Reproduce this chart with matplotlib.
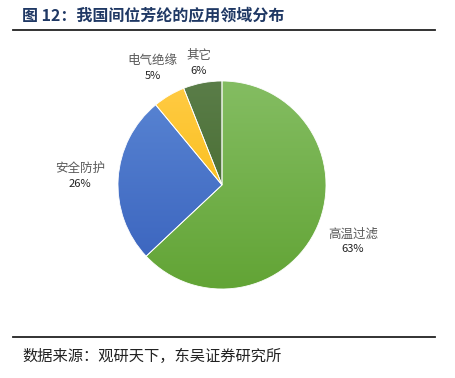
import numpy as np
import matplotlib.pyplot as plt
from matplotlib.colors import LinearSegmentedColormap

plt.rcParams['font.family'] = ['Noto Sans CJK SC', 'DejaVu Sans']

categories = ["高温过滤", "安全防护", "电气绝缘", "其它"]
shares = [63, 26, 5, 6]
pct_labels = ["63%", "26%", "5%", "6%"]
# gradient colours: top, bottom
top_colors = ["#84BD62", "#5A86D4", "#FFCB45", "#5A7D48"]
bottom_colors = ["#62A435", "#3861BC", "#F7B700", "#3E6326"]
label_dist = [1.37, 1.37, 1.31, 1.19]

fig = plt.figure(figsize=(4.55, 3.78), dpi=100)
W, H = 455, 378

# title and rules
fig.text(22 / W, 1 - 15 / H, "图 12：我国间位芳纶的应用领域分布", fontsize=11.5,
         fontweight="bold", color="#1F3864", va="center", ha="left")
fig.add_artist(plt.Line2D([13 / W, 435 / W], [1 - 29.5 / H] * 2, color="#222222", lw=1.3))
fig.add_artist(plt.Line2D([13 / W, 435 / W], [1 - 336.5 / H] * 2, color="#222222", lw=1.3))
fig.text(22 / W, 1 - 356 / H, "数据来源：观研天下，东吴证券研究所", fontsize=11,
         color="#222222", va="center", ha="left")

cx, cy, r = 222, 185, 104
ax = fig.add_axes([(cx - r) / W, (H - cy - r) / H, 2 * r / W, 2 * r / H])
wedges, _ = ax.pie(shares, startangle=90, counterclock=False, radius=1,
                   wedgeprops=dict(edgecolor="white", linewidth=0.6))
ax.set_xlim(-1, 1)
ax.set_ylim(-1, 1)
ax.set_aspect("equal")
ax.axis("off")

grad = np.linspace(0, 1, 256).reshape(-1, 1)
for w, c0, c1, name, pct, d in zip(wedges, top_colors, bottom_colors,
                                   categories, pct_labels, label_dist):
    cmap = LinearSegmentedColormap.from_list("g", [c0, c1])
    w.set_facecolor("none")
    im = ax.imshow(grad, cmap=cmap, extent=[-1, 1, -1, 1], origin="upper",
                   aspect="auto", zorder=w.get_zorder() - 0.1)
    im.set_clip_path(w)
    ang = np.deg2rad((w.theta1 + w.theta2) / 2)
    x, y = d * np.cos(ang), d * np.sin(ang)
    ax.text(x, y + 0.072, name, ha="center", va="center", fontsize=9,
            color="#595959", clip_on=False)
    ax.text(x, y - 0.075, pct, ha="center", va="center", fontsize=8,
            color="#222222", clip_on=False)

fig.savefig("out.png", dpi=100)
